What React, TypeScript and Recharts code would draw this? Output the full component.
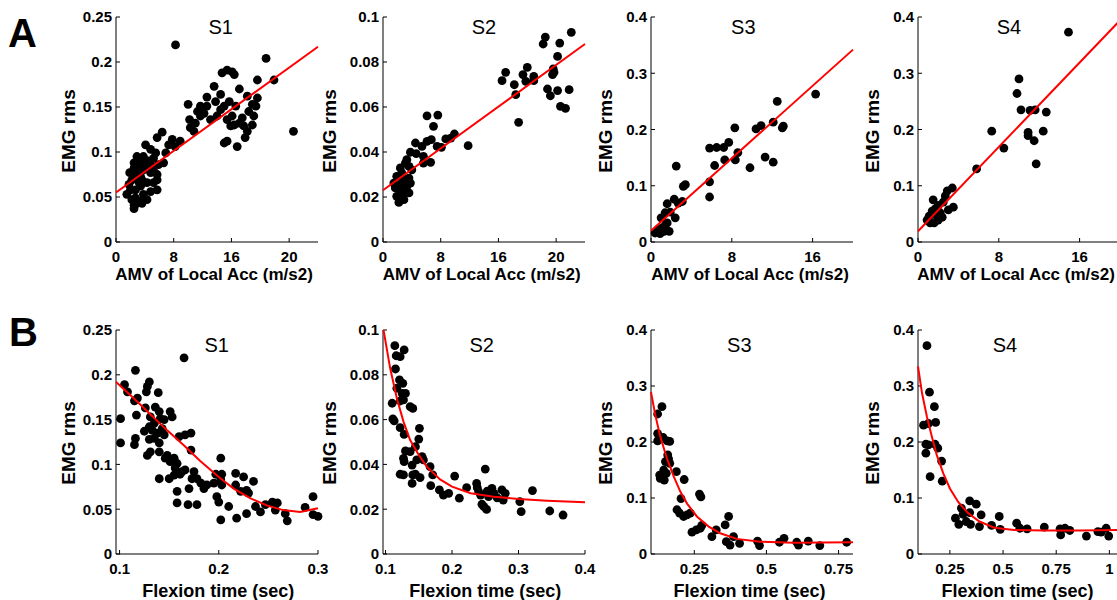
import React from 'react';
import { ScatterChart, Scatter, XAxis, YAxis } from 'recharts';

type Pt = [number, number];

// Row A: EMG rms vs AMV of local acceleration
const accS1: Pt[] = [
  [8.25, 0.219], [20.8, 0.204], [21.9, 0.18], [24.6, 0.123], [19.6, 0.18],
  [14.7, 0.188], [15.4, 0.191], [16.1, 0.189], [16.4, 0.186], [13.6, 0.173], [12.6, 0.161], [14.5, 0.164],
  [17.1, 0.17], [15.7, 0.156], [16.6, 0.151], [18.2, 0.162], [19.6, 0.16], [18.9, 0.153], [19.4, 0.151],
  [18.4, 0.145], [19.1, 0.14], [18.9, 0.13], [18.2, 0.123], [17.9, 0.116], [16.8, 0.106], [15.4, 0.112],
  [15.0, 0.11], [15.9, 0.129], [16.4, 0.13], [15.4, 0.136], [16.1, 0.14], [14.5, 0.147], [15.0, 0.151],
  [13.8, 0.156], [13.1, 0.136], [12.2, 0.143], [11.7, 0.151], [11.3, 0.145], [12.6, 0.151], [14.0, 0.14],
  [17.1, 0.132], [17.5, 0.138], [17.7, 0.129],
  [10.0, 0.153], [10.2, 0.136], [10.3, 0.127], [11.0, 0.132], [10.8, 0.123], [11.7, 0.14], [8.9, 0.112],
  [7.8, 0.114], [8.2, 0.106], [7.3, 0.108],
  [6.4, 0.122], [5.7, 0.116], [4.1, 0.108], [6.9, 0.099], [6.6, 0.088], [5.9, 0.086], [5.5, 0.099],
  [4.8, 0.103], [5.2, 0.093], [4.5, 0.09], [3.8, 0.095], [3.4, 0.091], [2.9, 0.095], [2.5, 0.088],
  [3.2, 0.084], [3.8, 0.08], [4.3, 0.084], [4.8, 0.077], [5.2, 0.08], [5.7, 0.069], [5.2, 0.066],
  [4.8, 0.056], [5.7, 0.058], [4.3, 0.066], [3.4, 0.073], [2.7, 0.077], [2.2, 0.069], [1.8, 0.064],
  [2.0, 0.058], [2.7, 0.058], [3.4, 0.062], [3.8, 0.053], [4.3, 0.047], [3.4, 0.045], [2.7, 0.049],
  [2.5, 0.041], [2.5, 0.037], [2.9, 0.043], [3.6, 0.043], [2.2, 0.047], [1.5, 0.053], [3.2, 0.066],
  [3.6, 0.069], [2.9, 0.071], [2.5, 0.082], [1.9, 0.077], [3.6, 0.088], [4.8, 0.086], [5.7, 0.075],
];

const accS2: Pt[] = [
  [26.1, 0.0932], [22.5, 0.0911], [22.2, 0.088], [24.5, 0.0884], [24.2, 0.0825], [23.6, 0.0769],
  [23.5, 0.0744], [23.7, 0.0754], [22.8, 0.068], [24.2, 0.0673], [23.2, 0.065], [25.8, 0.0677],
  [24.6, 0.0603], [25.3, 0.0594], [20.0, 0.0776], [19.4, 0.0744], [19.8, 0.0714], [20.9, 0.0736],
  [20.9, 0.0717], [17.0, 0.0754], [16.5, 0.0717], [18.2, 0.0699], [18.4, 0.0655], [18.8, 0.0532],
  [11.8, 0.0428], [9.9, 0.048], [9.4, 0.0462], [8.7, 0.0458], [8.1, 0.0421], [7.5, 0.0425],
  [7.6, 0.0564], [6.1, 0.0561], [7.0, 0.0514], [6.7, 0.0455], [6.1, 0.0447], [5.4, 0.0425],
  [4.5, 0.044], [5.6, 0.0381], [6.6, 0.0354], [5.6, 0.0351], [4.6, 0.0393], [3.8, 0.0399],
  [3.3, 0.0366], [3.6, 0.0336], [4.0, 0.0321], [3.1, 0.0351], [2.4, 0.0329], [2.6, 0.0307],
  [1.9, 0.0292], [1.5, 0.0262], [2.2, 0.0247], [2.6, 0.0262], [2.9, 0.0284], [3.6, 0.0284],
  [3.1, 0.0221], [3.6, 0.0218], [2.4, 0.021], [2.9, 0.0188], [2.2, 0.0176], [1.9, 0.0203],
  [1.7, 0.024], [2.4, 0.0233], [3.3, 0.0247], [3.8, 0.0262],
];

const accS3: Pt[] = [
  [16.3, 0.263], [12.5, 0.25], [12.1, 0.213], [13.0, 0.203], [13.1, 0.206], [10.9, 0.207], [10.4, 0.201],
  [11.3, 0.151], [12.1, 0.142], [9.8, 0.132], [8.3, 0.203], [8.6, 0.159], [8.35, 0.146], [7.7, 0.177],
  [7.2, 0.168], [6.5, 0.168], [5.8, 0.167], [7.3, 0.146], [6.3, 0.136], [5.8, 0.107], [5.8, 0.08],
  [3.4, 0.102], [3.2, 0.099], [2.5, 0.135], [3.1, 0.072], [2.7, 0.069], [2.3, 0.076], [1.6, 0.068],
  [2.4, 0.043], [1.9, 0.053], [1.4, 0.052], [1.0, 0.043], [1.6, 0.034], [1.1, 0.025], [0.7, 0.022],
  [0.4, 0.016], [0.9, 0.015], [1.3, 0.019], [1.8, 0.019], [1.4, 0.029],
];

const accS4: Pt[] = [
  [14.9, 0.373], [10.0, 0.29], [9.8, 0.264], [10.2, 0.235], [11.1, 0.234], [11.6, 0.235], [12.7, 0.231],
  [7.3, 0.197], [10.9, 0.195], [10.9, 0.189], [12.4, 0.197], [11.5, 0.18], [8.5, 0.167], [11.7, 0.139],
  [5.8, 0.13], [3.4, 0.096], [2.9, 0.091], [3.5, 0.062], [3.0, 0.057], [2.7, 0.082], [2.5, 0.071],
  [2.0, 0.065], [1.5, 0.075], [1.7, 0.059], [2.2, 0.052], [2.4, 0.044], [1.9, 0.046], [1.4, 0.055],
  [1.1, 0.046], [0.9, 0.039], [1.2, 0.034], [1.6, 0.034], [2.0, 0.039],
];

const accFitS1: Pt[] = [[0, 0.055], [28, 0.217]];
const accFitS2: Pt[] = [[0, 0.023], [28, 0.088]];
const accFitS3: Pt[] = [[0, 0.02], [20, 0.342]];
const accFitS4: Pt[] = [[0, 0.019], [20, 0.394]];

// Row B: EMG rms vs flexion time
const flexS1: Pt[] = [
  [0.165, 0.219], [0.116, 0.205], [0.101, 0.151], [0.101, 0.124], [0.105, 0.189], [0.108, 0.181],
  [0.115, 0.171], [0.118, 0.174], [0.13, 0.192], [0.128, 0.187], [0.127, 0.181], [0.139, 0.18],
  [0.117, 0.155], [0.126, 0.163], [0.131, 0.153], [0.136, 0.164], [0.14, 0.159], [0.141, 0.151],
  [0.145, 0.15], [0.135, 0.146], [0.13, 0.142], [0.125, 0.137], [0.116, 0.129], [0.115, 0.122],
  [0.13, 0.128], [0.133, 0.138], [0.138, 0.135], [0.143, 0.14], [0.145, 0.133], [0.14, 0.124],
  [0.135, 0.129], [0.128, 0.11], [0.131, 0.114], [0.14, 0.114], [0.148, 0.11], [0.146, 0.107],
  [0.151, 0.159], [0.153, 0.153], [0.151, 0.103], [0.155, 0.107], [0.158, 0.101], [0.156, 0.096],
  [0.163, 0.092], [0.16, 0.131], [0.166, 0.133], [0.172, 0.135], [0.172, 0.116], [0.14, 0.084],
  [0.15, 0.084], [0.155, 0.088], [0.161, 0.089], [0.166, 0.094], [0.158, 0.07], [0.158, 0.057],
  [0.169, 0.055], [0.178, 0.055], [0.17, 0.073], [0.173, 0.084], [0.175, 0.092], [0.178, 0.084],
  [0.182, 0.079], [0.185, 0.073], [0.188, 0.077], [0.195, 0.079], [0.197, 0.089], [0.202, 0.107],
  [0.203, 0.089], [0.202, 0.083], [0.198, 0.064], [0.2, 0.058], [0.202, 0.038], [0.21, 0.053],
  [0.203, 0.077], [0.217, 0.09], [0.217, 0.077], [0.222, 0.07], [0.225, 0.086], [0.228, 0.071],
  [0.23, 0.068], [0.235, 0.081], [0.228, 0.045], [0.218, 0.04], [0.237, 0.053], [0.242, 0.047],
  [0.247, 0.055], [0.254, 0.058], [0.257, 0.049], [0.259, 0.057], [0.267, 0.045], [0.269, 0.037],
  [0.287, 0.052], [0.295, 0.064], [0.295, 0.044], [0.3, 0.042],
];

const flexS2: Pt[] = [
  [0.114, 0.093], [0.116, 0.0885], [0.122, 0.0881], [0.128, 0.0911], [0.115, 0.0826], [0.121, 0.0777],
  [0.126, 0.0762], [0.117, 0.074], [0.125, 0.0717], [0.13, 0.0717], [0.127, 0.0688], [0.122, 0.0683],
  [0.11, 0.0673], [0.137, 0.0658], [0.141, 0.065], [0.111, 0.0603], [0.113, 0.0594], [0.122, 0.0564],
  [0.151, 0.0561], [0.128, 0.0534], [0.15, 0.0513], [0.13, 0.046], [0.137, 0.0457], [0.145, 0.0479],
  [0.127, 0.0427], [0.128, 0.0412], [0.14, 0.0397], [0.147, 0.042], [0.155, 0.0435], [0.157, 0.042],
  [0.167, 0.039], [0.171, 0.0353], [0.122, 0.0356], [0.127, 0.0353], [0.141, 0.0353], [0.145, 0.0356],
  [0.152, 0.0341], [0.14, 0.0315], [0.168, 0.0305], [0.181, 0.0286], [0.187, 0.0263], [0.195, 0.0271],
  [0.204, 0.0348], [0.211, 0.0249], [0.222, 0.0296], [0.237, 0.0315], [0.238, 0.0296], [0.24, 0.0278],
  [0.243, 0.0263], [0.245, 0.0222], [0.25, 0.0379], [0.248, 0.0211], [0.252, 0.0199], [0.253, 0.0281],
  [0.255, 0.0256], [0.26, 0.0293], [0.263, 0.0271], [0.268, 0.0251], [0.275, 0.0286], [0.277, 0.0241],
  [0.28, 0.0271], [0.302, 0.0234], [0.304, 0.0189], [0.321, 0.0283], [0.347, 0.0192], [0.367, 0.0174],
];

const flexS3: Pt[] = [
  [0.138, 0.263], [0.123, 0.25], [0.123, 0.215], [0.123, 0.202], [0.142, 0.208], [0.156, 0.202],
  [0.165, 0.201], [0.158, 0.177], [0.161, 0.17], [0.165, 0.162], [0.15, 0.165], [0.144, 0.15],
  [0.153, 0.144], [0.146, 0.132], [0.13, 0.141], [0.132, 0.135], [0.188, 0.147], [0.215, 0.133],
  [0.204, 0.099], [0.19, 0.079], [0.199, 0.073], [0.213, 0.067], [0.225, 0.07], [0.236, 0.073],
  [0.268, 0.107], [0.273, 0.102], [0.242, 0.039], [0.257, 0.043], [0.271, 0.046], [0.276, 0.051],
  [0.311, 0.031], [0.326, 0.043], [0.357, 0.052], [0.369, 0.067], [0.361, 0.022], [0.374, 0.016],
  [0.386, 0.031], [0.407, 0.019], [0.469, 0.023], [0.476, 0.015], [0.545, 0.021], [0.561, 0.028],
  [0.605, 0.021], [0.611, 0.016], [0.645, 0.023], [0.685, 0.015], [0.778, 0.021],
];

const flexS4: Pt[] = [
  [0.142, 0.372], [0.154, 0.289], [0.177, 0.263], [0.126, 0.23], [0.149, 0.233], [0.183, 0.235],
  [0.137, 0.196], [0.149, 0.195], [0.18, 0.196], [0.193, 0.189], [0.137, 0.18], [0.211, 0.166],
  [0.157, 0.138], [0.214, 0.13], [0.276, 0.064], [0.292, 0.053], [0.304, 0.082], [0.312, 0.071],
  [0.327, 0.058], [0.343, 0.095], [0.343, 0.074], [0.347, 0.053], [0.374, 0.089], [0.397, 0.07],
  [0.389, 0.049], [0.446, 0.051], [0.482, 0.067], [0.487, 0.044], [0.564, 0.055], [0.579, 0.046],
  [0.613, 0.045], [0.694, 0.048], [0.768, 0.045], [0.771, 0.034], [0.791, 0.046], [0.814, 0.042],
  [0.892, 0.032], [0.946, 0.04], [0.985, 0.046], [0.997, 0.032], [0.961, 0.039],
];

const flexFitS1: Pt[] = [
  [0.0965, 0.192], [0.114, 0.174], [0.131, 0.156], [0.148, 0.138], [0.165, 0.121], [0.181, 0.104],
  [0.2, 0.086], [0.215, 0.073], [0.232, 0.062], [0.249, 0.054], [0.265, 0.049], [0.282, 0.047], [0.3, 0.051],
];
const flexFitS2: Pt[] = [
  [0.097, 0.1], [0.107, 0.0829], [0.117, 0.0695], [0.127, 0.0591], [0.137, 0.0509], [0.15, 0.0442],
  [0.162, 0.039], [0.182, 0.0333], [0.2, 0.0301], [0.228, 0.0271], [0.263, 0.0256], [0.3, 0.0246],
  [0.343, 0.0238], [0.4, 0.0231],
];
const flexFitS3: Pt[] = [
  [0.1, 0.289], [0.115, 0.248], [0.132, 0.21], [0.155, 0.171], [0.179, 0.138], [0.202, 0.111],
  [0.225, 0.09], [0.259, 0.067], [0.3, 0.049], [0.34, 0.037], [0.397, 0.027], [0.478, 0.022],
  [0.593, 0.02], [0.8, 0.021],
];
const flexFitS4: Pt[] = [
  [0.1, 0.335], [0.119, 0.287], [0.142, 0.245], [0.165, 0.21], [0.188, 0.177], [0.219, 0.144],
  [0.25, 0.117], [0.289, 0.093], [0.335, 0.073], [0.389, 0.058], [0.459, 0.047], [0.552, 0.043],
  [0.691, 0.042], [0.861, 0.042], [1.05, 0.043],
];

const subjects = ['S1', 'S2', 'S3', 'S4'];
const yMaxes = [0.25, 0.1, 0.4, 0.4];
const yTickSets = [
  [0, 0.05, 0.1, 0.15, 0.2, 0.25],
  [0, 0.02, 0.04, 0.06, 0.08, 0.1],
  [0, 0.1, 0.2, 0.3, 0.4],
  [0, 0.1, 0.2, 0.3, 0.4],
];
const accTicks = [[0, 8, 16, 24], [0, 8, 16, 24], [0, 8, 16], [0, 8, 16]];
const accTickLabels = ['0', '8', '16', '20'];
const accDomains: Pt[] = [[0, 28], [0, 28], [0, 20], [0, 20]];
const flexTicks = [[0.1, 0.2, 0.3], [0.1, 0.2, 0.3, 0.4], [0.25, 0.5, 0.75], [0.25, 0.5, 0.75, 1]];
const flexDomains: Pt[] = [[0.0964, 0.3], [0.0962, 0.4], [0.1, 0.8], [0.1, 1.05]];

const accPoints = [accS1, accS2, accS3, accS4];
const accFits = [accFitS1, accFitS2, accFitS3, accFitS4];
const flexPoints = [flexS1, flexS2, flexS3, flexS4];
const flexFits = [flexFitS1, flexFitS2, flexFitS3, flexFitS4];

// layout
const FONT = '"Liberation Sans", Arial, Helvetica, sans-serif';
const PLOT_LEFTS = [115.7, 382.7, 650.7, 917.7];
const PLOT_W = 202;
const Y_W = 50;
const X_H = 34;
const M_TOP = 12;
const M_RIGHT = 20;
const ROW_A = { top: 17.3, h: 225 };
const ROW_B = { top: 330, h: 224 };

const tickStyle = { fill: '#000', fontSize: 15, fontWeight: 700, fontFamily: FONT };
const toXY = (pts: Pt[]) => pts.map(([x, y]) => ({ x, y }));

const Dot = (props: any) => <circle cx={props.cx} cy={props.cy} r={4.4} fill="#000" />;
const NoDot = () => <g />;

interface PanelProps {
  left: number;
  top: number;
  plotH: number;
  xDomain: Pt;
  xTicks: number[];
  xLabels?: string[];
  yMax: number;
  yTicks: number[];
  points: Pt[];
  fit: Pt[];
}

const Panel: React.FC<PanelProps> = ({ left, top, plotH, xDomain, xTicks, xLabels, yMax, yTicks, points, fit }) => (
  <div style={{ position: 'absolute', left: left - Y_W, top: top - M_TOP }}>
    <ScatterChart
      width={Y_W + PLOT_W + M_RIGHT}
      height={M_TOP + plotH + X_H}
      margin={{ top: M_TOP, right: M_RIGHT, bottom: 0, left: 0 }}
    >
      <XAxis
        type="number"
        dataKey="x"
        domain={xDomain}
        ticks={xTicks}
        interval={0}
        tickFormatter={(v: number, i: number) => (xLabels ? xLabels[i] : String(v))}
        height={X_H}
        tickSize={-4}
        tickMargin={13}
        axisLine={{ stroke: '#000' }}
        tickLine={{ stroke: '#000' }}
        tick={tickStyle}
      />
      <YAxis
        type="number"
        dataKey="y"
        domain={[0, yMax]}
        ticks={yTicks}
        interval={0}
        width={Y_W}
        tickSize={-4}
        tickMargin={8}
        axisLine={{ stroke: '#000' }}
        tickLine={{ stroke: '#000' }}
        tick={tickStyle}
      />
      <Scatter data={toXY(points)} shape={Dot} isAnimationActive={false} />
      <Scatter
        data={toXY(fit)}
        shape={NoDot}
        line={{ stroke: '#ff0000', strokeWidth: 2 }}
        lineType="joint"
        isAnimationActive={false}
      />
    </ScatterChart>
  </div>
);

const titleA = [220.7, 484, 743.3, 1009];
const titleB = [216.7, 481.7, 739.3, 1005];
const xLabA = [214, 481.7, 750, 1016];
const xLabB = [218.3, 485.3, 749.5, 1017.5];
const yLabX = [68, 329.5, 605.5, 872.5];

const App: React.FC = () => (
  <div style={{ position: 'absolute', left: 0, top: 0, width: 1117, height: 600, overflow: 'hidden', background: '#fff' }}>
    {subjects.map((s, i) => (
      <Panel
        key={'a' + s}
        left={PLOT_LEFTS[i]}
        top={ROW_A.top}
        plotH={ROW_A.h}
        xDomain={accDomains[i]}
        xTicks={accTicks[i]}
        xLabels={accTickLabels}
        yMax={yMaxes[i]}
        yTicks={yTickSets[i]}
        points={accPoints[i]}
        fit={accFits[i]}
      />
    ))}
    {subjects.map((s, i) => (
      <Panel
        key={'b' + s}
        left={PLOT_LEFTS[i]}
        top={ROW_B.top}
        plotH={ROW_B.h}
        xDomain={flexDomains[i]}
        xTicks={flexTicks[i]}
        yMax={yMaxes[i]}
        yTicks={yTickSets[i]}
        points={flexPoints[i]}
        fit={flexFits[i]}
      />
    ))}
    <svg width={1117} height={600} style={{ position: 'absolute', left: 0, top: 0, pointerEvents: 'none' }} fontFamily={FONT}>
      <text x={8} y={47} fontSize={40} fontWeight={700}>A</text>
      <text x={9} y={346} fontSize={40} fontWeight={700}>B</text>
      {subjects.map((s, i) => (
        <g key={'t' + s}>
          <text x={titleA[i]} y={34} fontSize={20} textAnchor="middle">{s}</text>
          <text x={titleB[i]} y={351.5} fontSize={20} textAnchor="middle">{s}</text>
          <text x={xLabA[i]} y={279.7} fontSize={17} fontWeight={700} textAnchor="middle">AMV of Local Acc (m/s2)</text>
          <text x={xLabB[i]} y={596.7} fontSize={18} fontWeight={700} textAnchor="middle">Flexion time (sec)</text>
          <text x={yLabX[i]} y={131 + 6.8} fontSize={19} fontWeight={700} textAnchor="middle" transform={`rotate(-90 ${yLabX[i]} 131)`}>EMG rms</text>
          <text x={yLabX[i]} y={443 + 6.8} fontSize={19} fontWeight={700} textAnchor="middle" transform={`rotate(-90 ${yLabX[i]} 443)`}>EMG rms</text>
        </g>
      ))}
    </svg>
  </div>
);

export default App;
